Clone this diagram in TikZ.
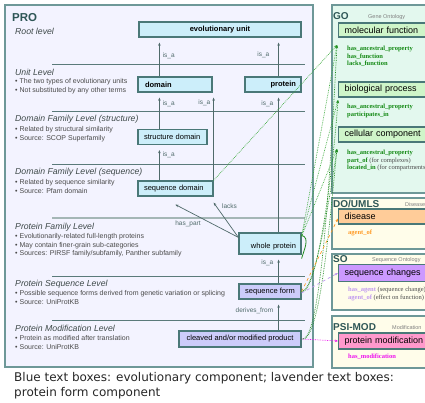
\documentclass[tikz,border=0pt]{standalone}
\usepackage{fontspec}
\setmainfont{Liberation Sans}
\newfontfamily\propfont{Liberation Serif}
\newfontfamily\capfont{DejaVu Sans}
\usetikzlibrary{arrows.meta}

\definecolor{framecol}{HTML}{6E9898}
\definecolor{boxcol}{HTML}{4A7878}
\definecolor{profill}{HTML}{F3F3FF}
\definecolor{evofill}{HTML}{CCEEFA}
\definecolor{formfill}{HTML}{CCCCFA}
\definecolor{gofill}{HTML}{E3F8EE}
\definecolor{termfill}{HTML}{CFF5C9}
\definecolor{extfill}{HTML}{FFFDEA}
\definecolor{diseasefill}{HTML}{FFCC99}
\definecolor{sofill}{HTML}{CC99FF}
\definecolor{modfill}{HTML}{FF99CC}
\definecolor{headcol}{HTML}{3F4A4A}
\definecolor{bulletcol}{HTML}{4A4A4A}
\definecolor{relcol}{HTML}{4F6A6A}
\definecolor{titlecol}{HTML}{2E5656}
\definecolor{sepcol}{HTML}{5A7A7A}
\definecolor{goline}{HTML}{3AAA3A}
\definecolor{godarkline}{HTML}{1E8A1E}
\definecolor{propgreen}{HTML}{118811}
\definecolor{proporange}{HTML}{FF9922}
\definecolor{proppurple}{HTML}{C099F0}
\definecolor{propmagenta}{HTML}{EE11EE}

\begin{document}
\begin{tikzpicture}[x=1pt, y=-1pt,
	>={Stealth[length=3.2pt,width=2.6pt]},
	frame/.style={draw=framecol, line width=1.8pt},
	sep/.style={draw=sepcol, line width=0.9pt},
	pbox/.style={draw=boxcol, line width=1.2pt, inner sep=0pt, minimum height=15pt, font=\fontsize{7.5}{9}\selectfont},
	evobox/.style={pbox, fill=evofill},
	formbox/.style={pbox, fill=formfill},
	termbox/.style={draw=boxcol, line width=1.2pt, anchor=west, inner xsep=6pt, inner ysep=0pt, minimum width=110pt, text width=98pt, align=left, minimum height=15pt, font=\fontsize{9}{11}\selectfont},
	lvlhead/.style={anchor=west, inner sep=0pt, text=headcol, font=\fontsize{8.7}{10}\selectfont\itshape},
	lvlbullets/.style={anchor=north west, inner sep=0pt, align=left, text=bulletcol, font=\fontsize{7}{8.3}\selectfont},
	rel/.style={inner sep=1pt, text=relcol, font=\fontsize{6.5}{8}\selectfont},
	isa/.style={->, draw=relcol, line width=0.7pt, shorten >=5pt},
	srctitle/.style={anchor=west, inner sep=0pt, text=titlecol, font=\fontsize{10}{12}\selectfont\bfseries},
	srcnote/.style={anchor=west, inner sep=0pt, text=gray, font=\fontsize{5.5}{7}\selectfont},
	prop/.style={anchor=north west, inner sep=0pt, align=left, font=\propfont\fontsize{6.5}{7.6}\selectfont\bfseries},
	golnk/.style={->, draw=goline, densely dotted, line width=0.7pt},
	golnkdark/.style={->, draw=godarkline, densely dotted, line width=0.7pt}
	]

	\clip (0,0) rectangle (425,403);

	% frames
	\draw[frame, fill=profill]	(5,5)	rectangle	(313,367);
	\draw[frame, fill=gofill]	(332,5)	rectangle	(440,193);
	\draw[frame, fill=extfill]	(332,198)	rectangle	(440,249);
	\draw[frame, fill=extfill]	(332,254)	rectangle	(440,310);
	\draw[frame, fill=extfill]	(332,316)	rectangle	(440,368);

	% level separators
	\draw[sep]	(52,64)	--	(305,64);
	\draw[sep]	(52,111)	--	(305,111);
	\draw[sep]	(52,164)	--	(305,164);
	\draw[draw=sepcol!55, line width=2pt]	(52,218)	--	(305,218);
	\draw[sep]	(52,276)	--	(305,276);
	\draw[sep]	(52,320)	--	(305,320);

	% level texts
	\node 	(protitle)	at	(12,18)	[anchor=west, inner sep=0pt, text=titlecol, font=\fontsize{11.5}{13}\selectfont\bfseries]{PRO};
	\node 	(rootlvl)	at	(15,31)	[lvlhead]{Root level};

	\node 	(unitlvl)	at	(15,72)	[lvlhead]{Unit Level};
	\node 	(unitlist)	at	(15,78.6)	[lvlbullets]{\textbullet\ The two types of evolutionary units\\\textbullet\ Not substituted by any other terms};

	\node 	(strlvl)	at	(15,119)	[lvlhead]{Domain Family Level (structure)};
	\node 	(strlist)	at	(15,126.6)	[lvlbullets]{\textbullet\ Related by structural similarity\\\textbullet\ Source: SCOP Superfamily};

	\node 	(seqlvl)	at	(15,172)	[lvlhead]{Domain Family Level (sequence)};
	\node 	(seqlist)	at	(15,179.6)	[lvlbullets]{\textbullet\ Related by sequence similarity\\\textbullet\ Source: Pfam domain};

	\node 	(famlvl)	at	(15,227)	[lvlhead]{Protein Family Level};
	\node 	(famlist)	at	(15,233.6)	[lvlbullets]{\textbullet\ Evolutionarily-related full-length proteins\\\textbullet\ May contain finer-grain sub-categories\\\textbullet\ Sources: PIRSF family/subfamily, Panther subfamily};

	\node 	(pslvl)	at	(15,284)	[lvlhead]{Protein Sequence Level};
	\node 	(pslist)	at	(15,290.6)	[lvlbullets]{\textbullet\ Possible sequence forms derived from genetic variation or splicing\\\textbullet\ Source: UniProtKB};

	\node 	(pmlvl)	at	(15,328)	[lvlhead]{Protein Modification Level};
	\node 	(pmlist)	at	(15,335.6)	[lvlbullets]{\textbullet\ Protein as modified after translation\\\textbullet\ Source: UniProtKB};

	% PRO terms
	\node 	(evo)		at	(220,29.5)	[evobox, minimum width=162pt, font=\fontsize{7.5}{9}\selectfont\bfseries]{evolutionary unit};
	\node 	(domain)	at	(175,84.5)	[evobox, minimum width=74pt, text width=60pt, align=left, font=\fontsize{7.5}{9}\selectfont\bfseries]{domain};
	\node 	(protein)	at	(273,84.5)	[evobox, minimum width=56pt, text width=46pt, align=right, font=\fontsize{7.5}{9}\selectfont\bfseries]{protein};
	\node 	(strdom)	at	(172.5,137)	[evobox, minimum width=69pt, text width=57pt, align=left]{structure domain};
	\node 	(seqdom)	at	(175.5,188.5)	[evobox, minimum width=75pt, text width=63pt, align=left]{sequence domain};
	\node 	(wholeprot)	at	(270,243.5)	[evobox, minimum width=62pt, minimum height=21pt, text width=52pt, align=right, text height=10pt, text depth=0pt]{whole protein};
	\node 	(seqform)	at	(270,291.5)	[formbox, minimum width=62pt]{sequence form};
	\node 	(cleaved)	at	(240,339)	[formbox, minimum width=122pt, minimum height=16pt]{cleaved and/or modified product};

	% relations
	\draw[isa]	([xshift=22pt]domain.north west)	to	node[rel, pos=0.525, right=2pt]{is\_a}	([xshift=21pt]evo.south west);
	\draw[isa]	([xshift=-23pt]protein.north east)	to	node[rel, pos=0.55, left=8pt]{is\_a}	([xshift=-23pt]evo.south east);
	\draw[isa]	([xshift=22pt]strdom.north west)	to	node[rel, pos=0.70, right=2pt]{is\_a}	([xshift=22pt]domain.south west);
	\draw[isa]	(seqdom.north east)	to	node[rel, pos=0.88, left=2pt]{is\_a}	(seqdom.north east |- domain.south);
	\draw[isa]	([xshift=22pt]seqdom.north west)	to	node[rel, pos=0.72, right=2pt]{is\_a}	([xshift=22pt]strdom.south west);
	\draw[isa]	([xshift=-23pt]wholeprot.north east)	to	node[rel, pos=0.92, left=4pt]{is\_a}	([xshift=-23pt]protein.south east);
	\draw[isa]	([xshift=-23pt]seqform.north east)	to	node[rel, pos=0.73, left=4pt]{is\_a}	([xshift=-23pt]wholeprot.south east);
	\draw[isa]	([xshift=-23pt]cleaved.north east)	to	node[rel, pos=0.63, left=4pt]{derives\_from}	([xshift=-23pt]seqform.south east);

	\draw[isa, shorten >=0pt]	([yshift=-5pt]wholeprot.north west)	to	node[rel, pos=0.8, below=8pt]{has\_part}	([xshift=38pt,yshift=-8pt]seqdom.south west);
	\draw[isa, shorten >=0pt]	([yshift=-5pt]wholeprot.north west)	to	node[rel, pos=0.75, above right=1pt]{lacks}	([yshift=-6pt]seqdom.south east);

	% other ontologies
	\node 	(gotitle)	at	(333,16)	[srctitle]{GO};
	\node 	(gonote)	at	(368,17)	[srcnote]{Gene Ontology};
	\node 	(molfunc)	at	(338,30)	[termbox, fill=termfill, minimum height=14pt]{molecular function};
	\node 	(mfprop)	at	(347,45.7)	[prop, text=propgreen]{has\_ancestral\_property\\has\_function\\lacks\_function};
	\node 	(bioproc)	at	(338,89.5)	[termbox, fill=termfill]{biological process};
	\node 	(bpprop)	at	(347,103.7)	[prop, text=propgreen]{has\_ancestral\_property\\participates\_in};
	\node 	(cellcomp)	at	(338,134.5)	[termbox, fill=termfill]{cellular component};
	\node 	(ccprop)	at	(347,149.7)	[prop, text=propgreen]{has\_ancestral\_property\\part\_of {\mdseries\color{bulletcol}(for complexes)}\\located\_in {\mdseries\color{bulletcol}(for compartments)}};

	\node 	(dotitle)	at	(333,204)	[srctitle]{DO/UMLS};
	\node 	(donote)	at	(405,205)	[srcnote]{Disease};
	\node 	(disease)	at	(338,216.5)	[termbox, fill=diseasefill]{disease};
	\node 	(dsprop)	at	(348,229.7)	[prop, text=proporange]{agent\_of};

	\node 	(sotitle)	at	(333,259)	[srctitle]{SO};
	\node 	(sonote)	at	(372,260)	[srcnote]{Sequence Ontology};
	\node 	(seqchg)	at	(338,273)	[termbox, fill=sofill, minimum height=17pt]{sequence changes};
	\node 	(scprop)	at	(348,286.7)	[prop, text=proppurple]{has\_agent {\mdseries\color{bulletcol}(sequence change)}\\agent\_of {\mdseries\color{bulletcol}(effect on function)}};

	\node 	(modtitle)	at	(333,327)	[srctitle]{PSI-MOD};
	\node 	(modnote)	at	(392,328)	[srcnote]{Modification};
	\node 	(protmod)	at	(338,341)	[termbox, fill=modfill, minimum height=16pt]{protein modification};
	\node 	(pmprop)	at	(348,353.7)	[prop, text=propmagenta]{has\_modification};

	% links into the other ontologies
	\coordinate	(mfin)	at	(337,45);
	\coordinate	(bpin)	at	(338,100);
	\coordinate	(ccin)	at	(337,149);

	\draw[golnk]	(seqdom.north east)	to	(mfin);
	\draw[golnk]	([yshift=-4pt]wholeprot.north east)	to	(mfin);
	\draw[golnk]	([yshift=-4pt]wholeprot.north east)	to	(bpin);
	\draw[golnk]	([yshift=-4pt]wholeprot.north east)	to	(ccin);
	\draw[godarkline, line width=0.8pt]	([yshift=-3pt]wholeprot.north east)	.. controls	+(9,2) and +(2,-8) ..	([yshift=-4pt]wholeprot.south east);
	\draw[golnkdark]	(seqform.east)	.. controls	+(14,0) and +(-6,40) ..	(ccin);
	\draw[golnkdark]	(seqform.east)	.. controls	+(16,4) and +(-4,60) ..	(bpin);
	\draw[golnkdark]	(cleaved.east)	.. controls	+(18,4) and +(-8,80) ..	(ccin);
	\draw[golnkdark]	(cleaved.east)	.. controls	+(20,6) and +(-6,110) ..	(mfin);

	\draw[->, draw=proporange, dashed, line width=0.7pt]	(seqform.east)	to	([yshift=-2pt]disease.west);
	\draw[->, draw=proppurple, dashed, line width=0.7pt]	([yshift=-1.5pt]seqform.east)	to	(seqchg.west);
	\draw[->, draw=propmagenta, densely dotted, line width=0.7pt]	(cleaved.east)	to	(protmod.west);

	% caption
	\node 	(caption)	at	(14,372.5)	[anchor=north west, inner sep=0pt, align=left, text=black!85, font=\capfont\fontsize{12}{14.2}\selectfont]{Blue text boxes: evolutionary component; lavender text boxes:\\protein form component};

\end{tikzpicture}
\end{document}
